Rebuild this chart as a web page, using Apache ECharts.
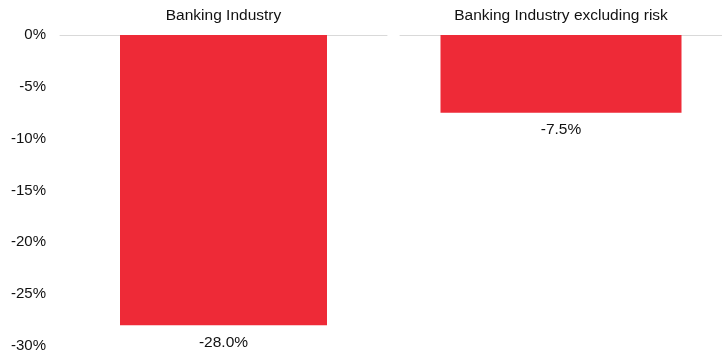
<!DOCTYPE html>
<html>
<head>
<meta charset="utf-8">
<script src="https://cdn.jsdelivr.net/npm/echarts@6/dist/echarts.min.js"></script>
<style>
  html, body { margin: 0; padding: 0; background: #fff; }
  #chart { width: 722px; height: 356px; }
</style>
</head>
<body>
<div id="chart"></div>
<script>
// Change in value, two panels side by side
const panelNames = ['Banking Industry', 'Banking Industry excluding risk'];
const panelValues = [-28.0, -7.5];
const yTicks = { min: -30, max: 0, step: 5 };

const barColor = '#ee2a37';
const textColor = '#111111';
const fontFamily = 'Liberation Sans, Arial, sans-serif';

const chart = echarts.init(document.getElementById('chart'));

const grids = [
  { left: 60, right: 335, top: 35, bottom: 10 },
  { left: 400, right: 0, top: 35, bottom: 10 }
];

const xAxes = panelNames.map((name, i) => ({
  type: 'category',
  gridIndex: i,
  position: 'top',
  data: [name],
  axisLine: { show: true, lineStyle: { color: '#d9d9d9', width: 1 } },
  axisTick: { show: false },
  axisLabel: { color: textColor, fontFamily, fontSize: 15.5, margin: 11 }
}));

const yAxes = panelNames.map((_, i) => ({
  type: 'value',
  gridIndex: i,
  min: yTicks.min,
  max: yTicks.max,
  interval: yTicks.step,
  splitLine: { show: false },
  axisLine: { show: false },
  axisTick: { show: false },
  axisLabel: {
    show: i === 0,
    formatter: '{value}%',
    color: textColor,
    fontFamily,
    fontSize: 15,
    margin: 14
  }
}));

const series = panelValues.map((v, i) => ({
  type: 'bar',
  xAxisIndex: i,
  yAxisIndex: i,
  data: [v],
  barWidth: i === 0 ? 207 : 241,
  itemStyle: { color: barColor },
  label: {
    show: true,
    position: 'bottom',
    distance: 9,
    color: textColor,
    fontFamily,
    fontSize: 15.5,
    formatter: p => p.value.toFixed(1) + '%'
  },
  silent: true
}));

chart.setOption({
  animation: false,
  grid: grids,
  xAxis: xAxes,
  yAxis: yAxes,
  series
});
</script>
</body>
</html>
